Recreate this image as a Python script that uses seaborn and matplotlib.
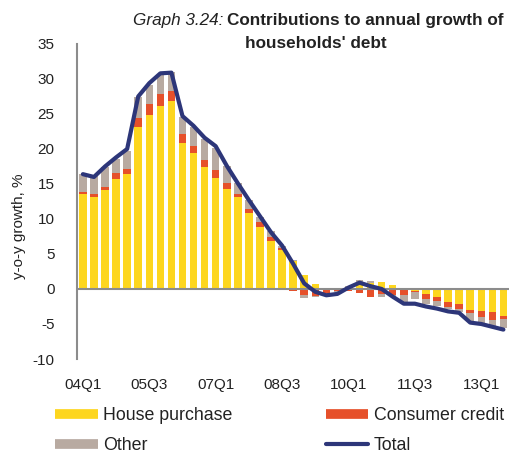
"""Contributions to annual growth of households' debt (Graph 3.24)"""

import matplotlib.pyplot as plt
import numpy as np
import pandas as pd
import seaborn as sns
from matplotlib.lines import Line2D

# quarters 04Q1 .. 13Q3
quarters = [f"{y:02d}Q{q}" for y in range(4, 14) for q in range(1, 5)][:39]

house = [13.5, 13.1, 14.2, 15.7, 16.4, 23.2, 24.9, 26.2, 26.8, 20.8,
         19.4, 17.4, 15.9, 14.3, 13.1, 10.8, 8.9, 6.9, 5.6, 4.0,
         2.0, 0.7, 0.1, 0.1, 0.3, 0.9, 0.8, 1.0, 0.5, -0.1,
         -0.3, -0.7, -1.1, -1.9, -2.1, -3.0, -3.2, -3.3, -3.8]
consumer = [0.3, 0.4, 0.4, 0.8, 0.8, 1.2, 1.5, 1.7, 1.5, 1.3,
            1.0, 1.0, 1.1, 0.8, 0.5, 0.6, 0.6, 0.5, 0.2, -0.3,
            -0.8, -1.0, -0.6, -0.3, -0.3, -0.6, -1.2, -0.7, -0.8, -0.8,
            -0.2, -0.7, -0.6, -0.7, -0.8, -0.5, -0.8, -1.1, -0.5]
other = [2.6, 2.7, 2.8, 2.1, 2.5, 3.0, 2.7, 2.8, 2.7, 2.4,
         2.7, 3.0, 3.2, 2.4, 1.6, 1.3, 0.8, 0.9, 0.4, 0.2,
         -0.5, -0.2, -0.2, -0.1, 0.1, 0.4, 0.4, -0.4, -0.2, -1.0,
         -0.9, -0.7, -0.8, -0.3, -0.4, -1.1, -1.0, -0.9, -1.3]
total = [16.4, 16.0, 17.5, 18.8, 20.0, 27.5, 29.4, 30.8, 30.9, 24.7,
         23.3, 21.6, 20.4, 17.6, 15.1, 12.7, 10.4, 8.1, 6.2, 3.6,
         0.8, -0.4, -0.9, -0.7, 0.2, 0.9, 0.4, 0.0, -1.1, -2.1,
         -2.1, -2.5, -2.8, -3.2, -3.4, -4.8, -5.0, -5.4, -5.8]

tick_labels = ["04Q1", "05Q3", "07Q1", "08Q3", "10Q1", "11Q3", "13Q1"]

series = {
    "House purchase": (house, "#FDD61F"),
    "Consumer credit": (consumer, "#E6502A"),
    "Other": (other, "#B8AAA1"),
}

sns.set_style("white")
plt.rcParams["font.family"] = ["Liberation Sans", "DejaVu Sans"]
plt.rcParams["axes.unicode_minus"] = False

df = pd.DataFrame({"quarter": quarters, "total": total})
df["pos"] = np.arange(len(df))

fig = plt.figure(figsize=(5.12, 4.53), dpi=100)
ax = fig.add_axes([0.150, 0.2075, 0.844, 0.6955])

# stacked bars, positives up from zero and negatives down from zero
pos_base = np.zeros(len(df))
neg_base = np.zeros(len(df))
for name, (vals, color) in series.items():
    v = np.array(vals)
    bottom = np.where(v >= 0, pos_base, neg_base)
    ax.bar(df["pos"], v, 0.68, bottom=bottom, color=color, linewidth=0, zorder=2)
    pos_base += np.clip(v, 0, None)
    neg_base += np.clip(v, None, 0)

sns.lineplot(data=df, x="pos", y="total", color="#2D3679", linewidth=3.0,
             ax=ax, zorder=4, legend=False)

ax.axhline(0, color="#8C8C8C", linewidth=1.5, zorder=3)

ax.set_xlim(-0.55, 38.5)
ax.set_ylim(-10, 35)
ax.set_yticks(range(-10, 36, 5))
ax.set_xticks(range(0, 37, 6))
ax.set_xticklabels(tick_labels)
ax.tick_params(axis="x", length=0, pad=14, labelsize=11, colors="#222222")
ax.tick_params(axis="y", length=0, pad=16, labelsize=11, colors="#222222")
ax.set_xlabel("")
ax.set_ylabel("y-o-y growth, %", fontsize=11, color="#222222")
ax.yaxis.set_label_coords(-0.118, 0.42)

for side in ["top", "right", "bottom"]:
    ax.spines[side].set_visible(False)
ax.spines["left"].set_color("#8C8C8C")
ax.spines["left"].set_linewidth(1.5)

# title
fig.text(223 / 512, 1 - 20 / 453, "Graph 3.24:", style="italic", fontsize=12.3,
         ha="right", va="center", color="#222222")
fig.text(227 / 512, 1 - 20 / 453, "Contributions to annual growth of",
         fontweight="bold", fontsize=12.3, ha="left", va="center", color="#222222")
fig.text(316 / 512, 1 - 44 / 453, "households' debt", fontweight="bold",
         fontsize=12.3, ha="center", va="center", color="#222222")

handles = [
    Line2D([], [], color=series["House purchase"][1], linewidth=7, solid_capstyle="butt"),
    Line2D([], [], color=series["Other"][1], linewidth=7, solid_capstyle="butt"),
    Line2D([], [], color=series["Consumer credit"][1], linewidth=7, solid_capstyle="butt"),
    Line2D([], [], color="#2D3679", linewidth=3, solid_capstyle="round"),
]
labels = ["House purchase", "Other", "Consumer credit", "Total"]
fig.legend(handles, labels, ncol=2, loc="upper left",
           bbox_to_anchor=(39 / 512, 1 - 391 / 453), frameon=False,
           fontsize=12.8, handlelength=2.4, handletextpad=0.3,
           columnspacing=5.25, labelspacing=0.72, labelcolor="#222222")

fig.savefig("out.png", dpi=100)
plt.close(fig)
